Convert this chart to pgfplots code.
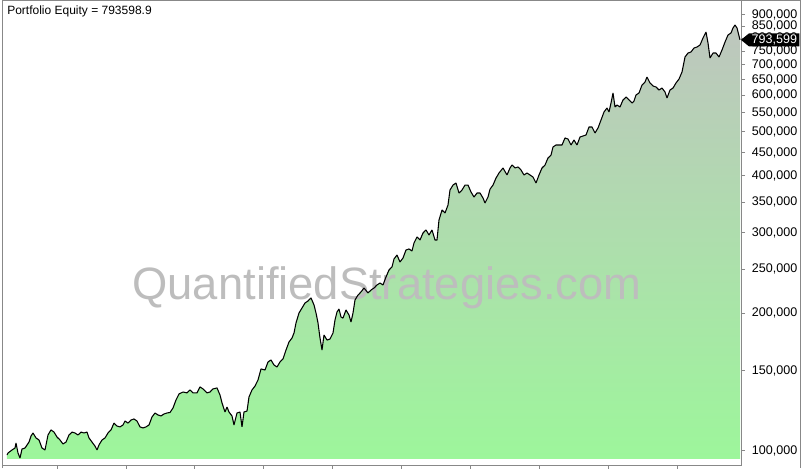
\documentclass[border=0pt]{standalone}
\usepackage{fontspec}
\setmainfont{Liberation Sans}
\usepackage{pgfplots}
\pgfplotsset{compat=1.18}
\usepackage{pgfplotstable}
\definecolor{axgray}{RGB}{136,136,136}
\definecolor{wmgray}{RGB}{189,189,189}
\definecolor{topc}{RGB}{190,198,190}
\definecolor{botc}{RGB}{157,246,155}

\pgfplotstableread{
x v
6.9 96.05
7 98.0
8 99.0
12 100.5
15 101.5
16 104.1
18 99.0
20 96.5
22 101.0
25 101.5
29 104.6
31 107.8
33 109.5
36 106.8
39 105.7
42 101.5
45 100.5
48 108.4
51 111.2
54 110.0
57 107.3
60 105.7
63 103.6
66 104.6
69 108.4
72 110.0
75 109.5
78 108.4
81 110.0
84 109.5
87 110.0
89 106.8
92 104.6
95 102.5
97 100.5
99 103.1
102 105.7
105 106.8
108 109.5
111 111.2
114 115.1
117 113.4
120 112.9
123 114.0
125 116.3
128 115.1
131 116.9
134 117.5
137 116.3
140 112.9
143 112.3
146 112.9
149 114.0
152 118.7
155 121.1
158 119.9
161 119.3
164 120.5
167 121.1
170 121.4
173 124.2
176 129.3
179 133.3
183 134.6
187 134.0
190 136.0
193 134.0
197 134.0
200 138.1
203 136.7
207 134.0
210 134.6
213 136.7
217 137.4
220 132.6
222 127.4
225 121.7
227 124.8
229 121.7
232 119.3
234 114.0
237 121.1
240 121.7
242 112.9
244 121.7
247 122.3
249 131.3
252 136.0
255 138.7
258 143.0
261 151.2
265 150.4
268 156.6
271 158.2
274 154.2
277 152.7
280 156.6
283 159.0
286 166.3
289 173.2
292 176.7
294 181.2
296 190.6
299 200.4
302 205.5
305 210.8
308 212.9
311 216.2
314 208.7
316 200.4
318 190.6
320 176.7
322 166.3
324 179.4
327 174.9
330 175.8
333 181.2
335 193.5
337 201.4
339 204.5
341 196.4
343 195.4
346 203.5
349 198.4
351 191.5
353 200.4
355 214.0
358 219.4
361 222.8
364 227.3
368 221.7
371 225.0
374 227.3
377 230.8
380 233.1
383 230.8
386 240.3
389 248.9
392 252.7
394 263.1
397 268.4
400 259.1
403 264.4
406 275.3
409 276.7
412 273.9
414 285.2
417 293.9
420 289.5
423 299.9
426 304.5
429 296.9
432 304.5
435 289.5
437 289.5
439 320.2
442 336.7
445 331.7
448 345.3
450 372.4
453 381.9
456 385.8
459 366.8
462 372.4
465 381.9
468 381.9
471 368.7
474 359.5
477 366.8
480 366.8
483 357.7
485 348.8
488 359.5
490 374.0
493 381.9
496 395.6
499 405.7
503 416.1
507 401.7
510 416.1
512 422.4
515 416.1
518 418.2
521 411.9
524 401.7
527 405.7
530 401.7
533 397.6
536 385.8
539 401.7
542 416.1
545 422.4
548 437.6
551 444.2
553 462.5
556 467.2
559 467.2
562 467.2
565 484.0
568 481.5
571 467.2
574 479.1
577 467.2
580 486.4
583 488.9
586 491.3
589 511.5
592 511.5
595 496.3
598 509.0
601 529.9
604 551.7
607 562.9
609 551.7
611 577.3
613 607.1
615 565.8
617 571.5
620 565.8
623 586.1
626 595.0
629 586.1
632 577.3
634 583.1
636 601.0
639 607.1
642 632.0
645 641.7
647 658.1
650 638.5
653 628.9
656 625.7
659 616.3
662 622.5
665 610.2
667 592.0
670 616.3
673 622.5
676 638.5
679 651.4
682 674.9
685 727.8
688 742.6
691 746.4
694 761.6
697 765.4
700 773.2
703 800.9
706 825.5
708 781.0
710 724.2
713 742.6
716 742.6
719 727.8
722 754.0
725 784.9
728 813.1
731 821.4
733 842.3
735 855.1
737 842.3
740 793.6
740.1 96.05
}\equity

\begin{document}
\begin{tikzpicture}
\useasboundingbox (0,0) rectangle (603.75pt,351pt);
\draw[axgray, line width=0.75pt] (1.5pt,0) -- (1.5pt,350.25pt) -- (600pt,350.25pt) -- (600pt,0);
\begin{axis}[
  at={(1.5pt,1.5pt)}, anchor=south west,
  scale only axis, width=554.25pt, height=348.75pt,
  xmin=2, xmax=741,
  ymode=log, ymin=92.72, ymax=965.1,
  clip=false,
  axis line style={draw=axgray, line width=0.75pt},
  tick style={draw=axgray, line width=0.75pt},
  tick align=outside,
  major tick length=3pt,
  xtick={57.7,126.7,194.7,263.3,332.3,401.3,470.3,539.3,608.7,677.3},
  xticklabels={},
  xtick pos=bottom,
  ytick={100,150,200,250,300,350,400,450,500,550,600,650,700,750,800,850,900},
  yticklabels={{100,000},{150,000},{200,000},{250,000},{300,000},{350,000},{400,000},{450,000},{500,000},{550,000},{600,000},{650,000},{700,000},{750,000},{800,000},{850,000},{900,000}},
  yminorticks=false,
  ytick pos=right,
  yticklabel pos=right,
  yticklabel style={anchor=west, font=\fontsize{9.4}{11}\selectfont, inner sep=0pt, xshift=5pt},
  /pgf/number format/assume math mode=true,
]
\addplot[draw=none, top color=topc, bottom color=botc] table[x=x, y=v] {\equity};
\node[anchor=base, text=wmgray, font=\fontsize{34}{40}\selectfont, inner sep=0pt] at (rel axis cs:0.521,0.357) {QuantifiedStrategies.com};
\addplot[black, line width=0.8pt, line join=bevel, restrict x to domain=7:740] table[x=x, y=v] {\equity};
\node[anchor=base west, font=\fontsize{9}{11}\selectfont, inner sep=0pt] at (rel axis cs:0.00677,0.9699) {Portfolio Equity = 793598.9};
\coordinate (tip) at (axis cs:741,793.599);
\end{axis}
\fill[black] (tip) -- ([shift={(6pt,4.9pt)}]tip) -- ([shift={(43.8pt,4.9pt)}]tip) -- ([shift={(43.8pt,-4.9pt)}]tip) -- ([shift={(6pt,-4.9pt)}]tip) -- cycle;
\node[anchor=west, text=white, font=\fontsize{9.4}{11}\selectfont, inner sep=0pt] at ([xshift=7.8pt]tip) {793,599};
\end{tikzpicture}
\end{document}
